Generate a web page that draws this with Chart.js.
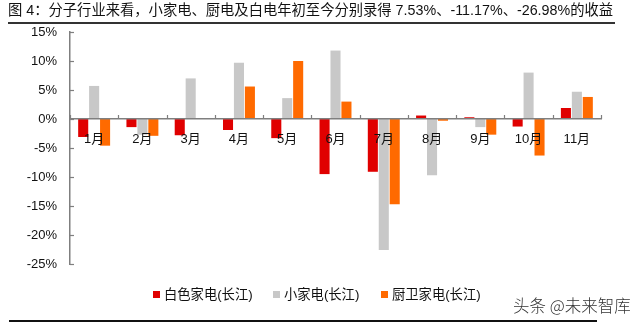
<!DOCTYPE html>
<html>
<head>
<meta charset="utf-8">
<script src="https://cdn.jsdelivr.net/npm/chart.js@4/dist/chart.umd.min.js"></script>
<style>
  html, body { margin: 0; padding: 0; background: #fff; }
  #wrap { position: relative; width: 640px; height: 324px; overflow: hidden;
          font-family: "Liberation Sans", Arial, "Noto Sans CJK SC", sans-serif; color: #000; }
  #c { position: absolute; left: 0; top: 0; }
  #title { position: absolute; left: 8px; top: 2px; font-size: 14.3px; line-height: 17px; white-space: nowrap; color: #111; }
  #topline { position: absolute; left: 8px; top: 22px; width: 607px; height: 2px; background: #333; }
  #botline { position: absolute; left: 9px; top: 320px; width: 588px; height: 2px; background: #111; }
  .lg { position: absolute; top: 287px; font-size: 13.3px; line-height: 16px; white-space: nowrap; color: #111; }
  .lg i { display: inline-block; width: 7px; height: 7px; margin-right: 4px; vertical-align: 1px; }
  #wm { position: absolute; left: 513px; top: 295px; font-size: 16.5px; line-height: 20px; color: #333; white-space: nowrap;
        font-family: "Noto Sans CJK SC", sans-serif; font-weight: 300; }
</style>
</head>
<body>
<div id="wrap">
  <canvas id="c" width="640" height="324"></canvas>
  <div id="title">图 4：分子行业来看，小家电、厨电及白电年初至今分别录得 7.53%、-11.17%、-26.98%的收益</div>
  <div id="topline"></div>
  <div class="lg" style="left:153px"><i style="background:#E00000"></i>白色家电(长江)</div>
  <div class="lg" style="left:273px"><i style="background:#C8C8C8"></i>小家电(长江)</div>
  <div class="lg" style="left:381px"><i style="background:#FF6A00"></i>厨卫家电(长江)</div>
  <div id="wm">头条 @未来智库</div>
  <div id="botline"></div>
</div>
<script>
const categories = ["1月","2月","3月","4月","5月","6月","7月","8月","9月","10月","11月"];
const seriesNames = ["白色家电(长江)","小家电(长江)","厨卫家电(长江)"];
const whiteGoods = [-3.1, -1.4, -2.8, -1.9, -3.3, -9.5, -9.1, 0.6, 0.3, -1.3, 1.9];
const smallAppl  = [5.7, -2.7, 7.0, 9.7, 3.6, 11.8, -22.6, -9.7, -1.4, 8.0, 4.7];
const kitchen    = [-4.6, -2.9, 0.1, 5.6, 10.0, 3.0, -14.7, -0.3, -2.7, -6.3, 3.8];
const yTicks = [-25, -20, -15, -10, -5, 0, 5, 10, 15];
const colors = ["#E00000", "#C8C8C8", "#FF6A00"];

const tickMarks = {
  id: 'tickMarks',
  afterDraw(chart) {
    const ctx = chart.ctx, xs = chart.scales.x, ys = chart.scales.y;
    const y0 = ys.getPixelForValue(0);
    ctx.save();
    ctx.strokeStyle = '#7f7f7f';
    ctx.lineWidth = 1.2;
    const n = categories.length, w = (xs.right - xs.left) / n;
    for (let i = 0; i <= n; i++) {
      const x = Math.round(xs.left + i * w) + 0.5;
      ctx.beginPath(); ctx.moveTo(x, y0); ctx.lineTo(x, y0 - 4); ctx.stroke();
    }
    yTicks.forEach(v => {
      const y = Math.round(ys.getPixelForValue(v)) + 0.5;
      ctx.beginPath(); ctx.moveTo(ys.right, y); ctx.lineTo(ys.right + 4, y); ctx.stroke();
    });
    ctx.restore();
  }
};

new Chart(document.getElementById('c'), {
  type: 'bar',
  data: {
    labels: categories,
    datasets: [whiteGoods, smallAppl, kitchen].map((d, i) => ({
      label: seriesNames[i], data: d, backgroundColor: colors[i], borderWidth: 0,
      categoryPercentage: 0.68, barPercentage: 0.92
    }))
  },
  options: {
    responsive: false, animation: false,
    layout: { padding: { left: 0, right: 39, top: 32, bottom: 60 } },
    plugins: { legend: { display: false }, title: { display: false }, tooltip: { enabled: false } },
    scales: {
      x: {
        position: { y: 0 },
        grid: { display: false, drawTicks: false },
        border: { display: true, color: '#7f7f7f', width: 1.5, z: 1 },
        ticks: { z: 1, color: '#111', padding: 13, font: { size: 13, family: '"Liberation Sans", Arial, "Noto Sans CJK SC"' } }
      },
      y: {
        min: -25, max: 15,
        afterFit(s) { s.width = 70; },
        afterBuildTicks(s) { s.ticks = yTicks.map(v => ({ value: v })); },
        grid: { display: false, drawTicks: false },
        border: { display: true, color: '#7f7f7f', width: 1.5 },
        ticks: { color: '#111', padding: 13, callback: v => v + '%', font: { size: 13, family: '"Liberation Sans", Arial' } }
      }
    }
  },
  plugins: [tickMarks]
});
</script>
</body>
</html>
